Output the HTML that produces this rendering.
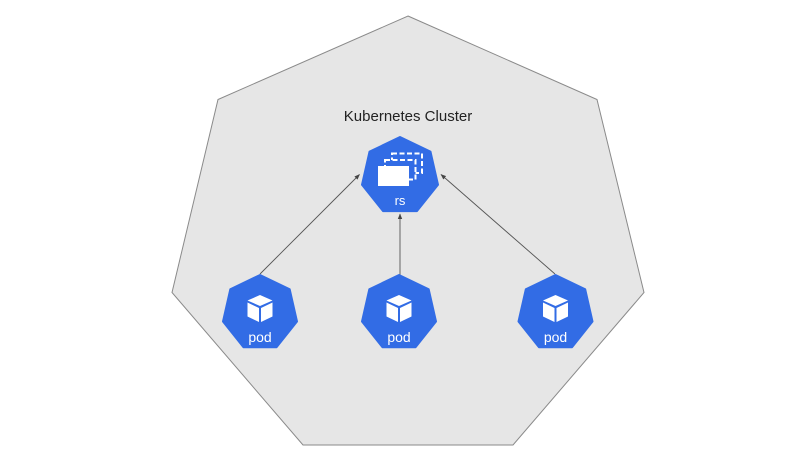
<!DOCTYPE html>
<html>
<head>
<meta charset="utf-8">
<style>
html,body{margin:0;padding:0;background:#fff;}
svg{display:block;}
text{font-family:"Liberation Sans",Arial,sans-serif;}
</style>
</head>
<body>
<svg width="800" height="450" viewBox="0 0 800 450" xmlns="http://www.w3.org/2000/svg">
  <defs>
    <marker id="ah" markerWidth="6" markerHeight="6" refX="5" refY="3" orient="auto" markerUnits="userSpaceOnUse">
      <path d="M0,0.8 L5.5,3 L0,5.2 Z" fill="#444"/>
    </marker>
  </defs>
  <rect width="800" height="450" fill="#fff"/>
  <!-- cluster heptagon -->
  <polygon points="408,16 597,99.5 644,292.5 513,445 303,445 172,292.5 218,99.5" fill="#e6e6e6" stroke="#8a8a8a" stroke-width="1"/>
  <text x="408" y="121" font-size="15" text-anchor="middle" fill="#222">Kubernetes Cluster</text>

  <!-- connectors -->
  <line x1="260" y1="274" x2="359.5" y2="174.5" stroke="#555" stroke-width="0.9" marker-end="url(#ah)"/>
  <line x1="400" y1="275" x2="400" y2="214" stroke="#555" stroke-width="0.9" marker-end="url(#ah)"/>
  <line x1="555" y1="274" x2="441" y2="174.5" stroke="#555" stroke-width="0.9" marker-end="url(#ah)"/>

  <!-- rs node -->
  <polygon points="400,137 430.5,151.7 438,184.7 416.9,211.1 383.1,211.1 362,184.7 369.5,151.7" fill="#326ce5" stroke="#326ce5" stroke-width="2" stroke-linejoin="round"/>
  <rect x="392" y="153.5" width="30" height="19.5" fill="#326ce5" stroke="#fff" stroke-width="2" stroke-dasharray="5 2.5"/>
  <rect x="385" y="160" width="30.5" height="19.5" fill="#326ce5" stroke="#fff" stroke-width="2" stroke-dasharray="5 2.5"/>
  <rect x="378" y="166" width="31" height="20" fill="#fff"/>
  <text x="400" y="205" font-size="13" text-anchor="middle" fill="#fff">rs</text>

  <!-- pods -->
  <g id="pod1" transform="translate(260,0)">
    <polygon points="0,275 29.7,289.3 37,321.5 16.5,347.2 -16.5,347.2 -37,321.5 -29.7,289.3" fill="#326ce5" stroke="#326ce5" stroke-width="2" stroke-linejoin="round"/>
    <polygon points="0,295 12.5,300.5 0,306 -12.5,300.5" fill="#fff"/>
    <polygon points="-12.5,302.5 -1,308 -1,322 -12.5,316.5" fill="#fff"/>
    <polygon points="12.5,302.5 1,308 1,322 12.5,316.5" fill="#fff"/>
    <text x="0" y="342" font-size="14" text-anchor="middle" fill="#fff">pod</text>
  </g>
  <g transform="translate(399,0)">
    <polygon points="0,275 29.7,289.3 37,321.5 16.5,347.2 -16.5,347.2 -37,321.5 -29.7,289.3" fill="#326ce5" stroke="#326ce5" stroke-width="2" stroke-linejoin="round"/>
    <polygon points="0,295 12.5,300.5 0,306 -12.5,300.5" fill="#fff"/>
    <polygon points="-12.5,302.5 -1,308 -1,322 -12.5,316.5" fill="#fff"/>
    <polygon points="12.5,302.5 1,308 1,322 12.5,316.5" fill="#fff"/>
    <text x="0" y="342" font-size="14" text-anchor="middle" fill="#fff">pod</text>
  </g>
  <g transform="translate(555.5,0)">
    <polygon points="0,275 29.7,289.3 37,321.5 16.5,347.2 -16.5,347.2 -37,321.5 -29.7,289.3" fill="#326ce5" stroke="#326ce5" stroke-width="2" stroke-linejoin="round"/>
    <polygon points="0,295 12.5,300.5 0,306 -12.5,300.5" fill="#fff"/>
    <polygon points="-12.5,302.5 -1,308 -1,322 -12.5,316.5" fill="#fff"/>
    <polygon points="12.5,302.5 1,308 1,322 12.5,316.5" fill="#fff"/>
    <text x="0" y="342" font-size="14" text-anchor="middle" fill="#fff">pod</text>
  </g>
</svg>
</body>
</html>
